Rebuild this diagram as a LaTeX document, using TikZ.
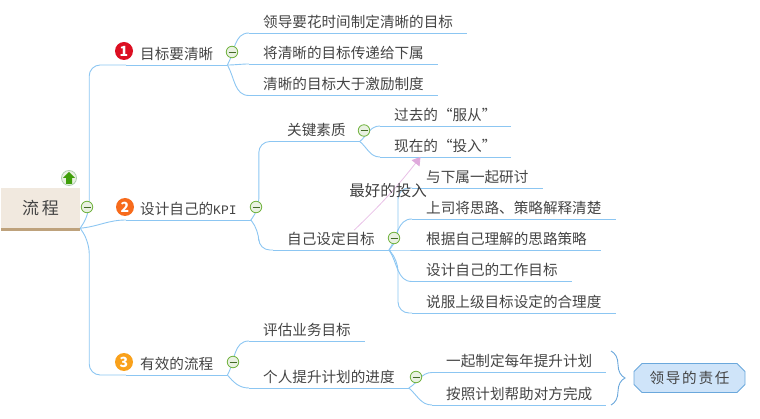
\documentclass[tikz,border=0pt]{standalone}
\usepackage{fontspec}
\setmainfont{Noto Sans CJK SC}
\newfontfamily\spaced[LetterSpace=12]{Noto Sans CJK SC}
\newfontfamily\kpifont{Liberation Mono}
\usepackage{xcolor}
\usetikzlibrary{arrows.meta,calc,shapes.misc,decorations.pathreplacing}
\definecolor{linkBlue}{HTML}{8CC6F2}
\definecolor{inkGray}{HTML}{444444}
\definecolor{rootBg}{HTML}{F1E9DF}
\definecolor{rootBand}{HTML}{BEA27C}
\definecolor{foldGreen}{HTML}{72B340}
\definecolor{foldBg}{HTML}{E9F1E2}
\definecolor{arrowGreen}{HTML}{3F9F0A}
\definecolor{braceBlue}{HTML}{6BA8DC}
\definecolor{calloutBg}{HTML}{CFE4F9}
\definecolor{relPink}{HTML}{E8C0E6}
\definecolor{relTip}{HTML}{DFA9DC}
\definecolor{markRed}{HTML}{DC0F22}
\definecolor{markOrange}{HTML}{F76B1C}
\definecolor{markYellow}{HTML}{F9A11B}

\begin{document}
\begin{tikzpicture}[
    x=1pt, y=-1pt,
    topic/.style={anchor=south west, inner xsep=14pt, inner ysep=2.5pt, text height=11.5pt,
                  text depth=3pt, text=inkGray, font=\fontsize{14.6}{16}\selectfont},
    link/.style={draw=linkBlue, line width=0.9pt},
    longlink/.style={link, rounded corners=11pt},
    fold/.style={circle, draw=foldGreen, fill=foldBg, line width=0.8pt, minimum size=11.5pt, inner sep=0pt,
                 path picture={\draw[foldGreen!60!black, line width=0.9pt]
                     ($(path picture bounding box.center)+(-3.5,0)$) -- ++(7,0);}},
    badge/.style={circle, minimum size=18pt, inner sep=0pt, text=white,
                 font=\fontsize{14}{14}\selectfont\bfseries},
    rel/.style={draw=relPink, line width=0.8pt, -{Triangle[length=8pt,width=10pt,color=relTip]}},
]
    \useasboundingbox (0,0) rectangle (760,419);

    % root
    \node[fill=rootBg, minimum width=79pt, minimum height=40pt, inner sep=0pt, text=inkGray,
          font=\fontsize{17}{18}\selectfont] (root) at (40.5,208) {流\hspace{3pt}程};
    \draw[rootBand, line width=3pt] ([yshift=-1.5pt]root.south west) -- ([yshift=-1.5pt]root.south east);
    \node[circle, draw=green!25!gray!50, fill=foldBg, line width=0.8pt, minimum size=15pt, inner sep=0pt,
          path picture={\fill[arrowGreen] ($(path picture bounding box.center)+(0,-6)$) -- ++(6,6) -- ++(-3,0)
              -- ++(0,6) -- ++(-6,0) -- ++(0,-6) -- ++(-3,0) -- cycle;}] (upmark) at (69,178) {};

    % main topics
    \node[topic] (goal) at (126,65) {目标要清晰};
    \node[topic] (kpi) at (126,220) {设计自己的{\kpifont\fontsize{13}{14}\selectfont KPI}};
    \node[topic] (flow) at (126,375) {有效的流程};
    \node[badge, fill=markRed] (m1) at (124,51) {1};
    \node[badge, fill=markOrange] (m2) at (125,207) {2};
    \node[badge, fill=markYellow] (m3) at (124,362) {3};

    % first branch
    \node[topic] (g1) at (249,33) {领导要花时间制定清晰的目标};
    \node[topic] (g2) at (249,64) {将清晰的目标传递给下属};
    \node[topic] (g3) at (249,95.5) {清晰的目标大于激励制度};

    % second branch
    \node[topic] (quality) at (273,141.5) {关键素质};
    \node[topic] (self) at (273,250) {自己设定目标};
    \node[topic] (past) at (380,126) {过去的“服从”};
    \node[topic] (now) at (380,157) {现在的“投入”};
    \node[topic] (s1) at (412,188) {与下属一起研讨};
    \node[topic] (s2) at (412,219) {上司将思路、策略解释清楚};
    \node[topic] (s3) at (412,250) {根据自己理解的思路策略};
    \node[topic] (s4) at (412,281.5) {设计自己的工作目标};
    \node[topic] (s5) at (412,313) {说服上级目标设定的合理度};

    % third branch
    \node[topic] (assess) at (249,341) {评估业务目标};
    \node[topic] (plan) at (249,388) {个人提升计划的进度};
    \node[topic] (p1) at (432,372.5) {一起制定每年提升计划};
    \node[topic] (p2) at (432,405) {按照计划帮助对方完成};

    % underlines
    \foreach \n in {goal,kpi,flow,g1,g2,g3,quality,self,past,now,s1,s2,s3,s4,s5,assess,plan,p1,p2}
        \draw[link] (\n.south west) -- (\n.south east);

    % curved links
    \draw[longlink] (root.south east) -- ++(9,-14) |- (goal.south west);
    \draw[longlink] (root.south east) -- ++(9,14) |- (flow.south west);
    \draw[link] (root.south east) to[out=5,in=180] (kpi.south west);
    \draw[longlink] (kpi.south east) -- ++(8,-10) |- (quality.south west);
    \draw[longlink] (kpi.south east) -- ++(8,10) |- (self.south west);
    \foreach \p/\c/\a in {goal/g1/60,goal/g2/0,goal/g3/-60,quality/past/40,quality/now/-40,
                          self/s3/0,flow/assess/60,flow/plan/-50,plan/p1/30,plan/p2/-40}
        \draw[link] (\p.south east) to[out=\a,in=180] (\c.south west);
    \draw[longlink] (self.south east) -- ++(9,-10) |- (s1.south west);
    \draw[link] (self.south east) to[out=55,in=180] (s2.south west);
    \draw[link] (self.south east) to[out=-55,in=180] (s4.south west);
    \draw[longlink] (self.south east) -- ++(9,10) |- (s5.south west);

    % fold marks
    \node[fold] (f0) at (87,207) {};
    \node[fold] (f1) at (232,52) {};
    \node[fold] (f2) at (256,207) {};
    \node[fold] (f3) at (233,362) {};
    \node[fold] (f4) at (364,130.5) {};
    \node[fold] (f5) at (394,238) {};
    \node[fold] (f6) at (416,377) {};

    % relation
    \draw[rel] ($(self.north west)!0.7!(self.north east)$) to[bend right=4] ($(now.south west)!0.31!(now.south east)$);
    \node[text=black!75, font=\fontsize{15.5}{16}\selectfont, inner sep=0pt] (best) at (388,191) {最好的投入};

    % summary
    \coordinate (bracetop) at (611,351);
    \coordinate (bracebot) at (611,405);
    \draw[braceBlue, line width=0.9pt, decorate, decoration={brace, amplitude=14pt}] (bracetop) -- (bracebot);
    \node[chamfered rectangle, chamfered rectangle xsep=4pt, chamfered rectangle ysep=4pt, draw=braceBlue,
          fill=calloutBg, line width=0.9pt, minimum width=111pt, minimum height=29pt, inner sep=0pt,
          text=inkGray, font=\fontsize{14.6}{16}\selectfont\spaced] (duty) at (689.5,378) {领导的责任};
\end{tikzpicture}
\end{document}
